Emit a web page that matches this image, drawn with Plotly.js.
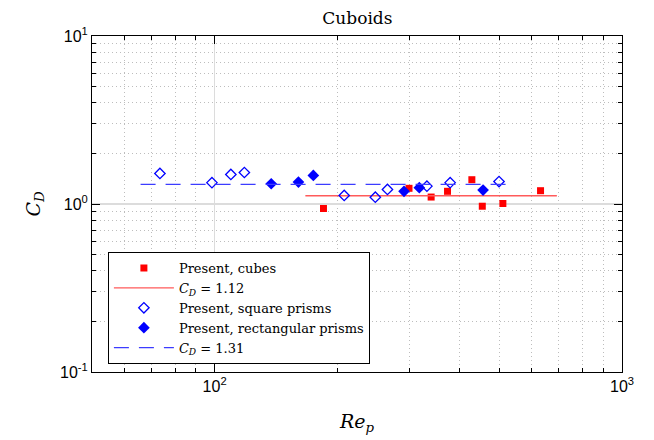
<!DOCTYPE html>
<html>
<head>
<meta charset="utf-8">
<script src="https://cdn.plot.ly/plotly-3.0.1.min.js"></script>
<style>html,body{margin:0;padding:0;background:#fff;}#chart{width:654px;height:440px;}</style>
</head>
<body>
<div id="chart"></div>
<script>
// Present, cubes
const cubesRe = [185, 300, 340, 373, 428, 454, 510, 631];
const cubesCd = [0.94, 1.24, 1.10, 1.19, 1.395, 0.97, 1.007, 1.20];
// Present, square prisms
const squareRe = [73.4, 98.5, 109.6, 118.3, 208, 248, 265.6, 332, 378.6, 499];
const squareCd = [1.52, 1.34, 1.50, 1.54, 1.124, 1.098, 1.22, 1.277, 1.34, 1.36];
// Present, rectangular prisms
const rectRe = [137.7, 160.6, 174.7, 291.7, 318, 456];
const rectCd = [1.32, 1.35, 1.48, 1.19, 1.25, 1.21];
// Fit lines
const fitCubesRe = [167, 692];
const fitCubesCd = [1.12, 1.12];
const fitPrismRe = [65.8, 548];
const fitPrismCd = [1.31, 1.31];

const serif = "'DejaVu Serif', serif";
const sans = "'Liberation Sans', Arial, sans-serif";

function minorVals(lo, hi) {
  const v = [];
  for (let e = lo; e < hi; e++) for (let k = 2; k <= 9; k++) v.push(k * Math.pow(10, e));
  return v;
}

const traces = [
  {x: cubesRe, y: cubesCd, mode: 'markers', name: 'Present, cubes',
   marker: {symbol: 'square', size: 7, color: '#ff0000'}},
  {x: fitCubesRe, y: fitCubesCd, mode: 'lines', name: '<i>C</i><sub><i>D</i></sub> = 1.12',
   line: {color: '#ff5a5a', width: 1.3}},
  {x: squareRe, y: squareCd, mode: 'markers', name: 'Present, square prisms',
   marker: {symbol: 'diamond-open', size: 8, color: '#0000ff', line: {width: 1.3, color: '#0000ff'}}},
  {x: rectRe, y: rectCd, mode: 'markers', name: 'Present, rectangular prisms',
   marker: {symbol: 'diamond', size: 9, color: '#0000ff'}},
  {x: fitPrismRe, y: fitPrismCd, mode: 'lines', name: '<i>C</i><sub><i>D</i></sub> = 1.31',
   line: {color: '#3c3cff', width: 1.3, dash: '15px,10px'}}
];

const gridMinor = {
  ticks: 'inside', ticklen: 4, tickcolor: '#000',
  showgrid: true, gridcolor: '#bdbdbd', griddash: '1px,3px', gridwidth: 1
};

const layout = {
  width: 654, height: 440,
  margin: {l: 92, r: 32, t: 36, b: 68},
  paper_bgcolor: '#fff', plot_bgcolor: '#fff',
  showlegend: true,
  font: {family: serif},
  title: {text: 'Cuboids', font: {family: serif, size: 17, color: '#000'},
          x: 0.5465, xanchor: 'center', y: 0.96, yanchor: 'middle', yref: 'container'},
  xaxis: {
    type: 'log', range: [Math.log10(50), 3],
    tickvals: [100, 1000], ticktext: ['10<sup>2</sup>', '10<sup>3</sup>'],
    ticks: 'inside', ticklen: 8, tickcolor: '#000', tickwidth: 1,
    showline: true, linecolor: '#000', linewidth: 1, mirror: 'allticks',
    showgrid: true, gridcolor: '#dcdcdc', gridwidth: 1.2, zeroline: false,
    tickfont: {family: sans, size: 16, color: '#000'},
    minor: Object.assign({}, gridMinor, {tickvals: minorVals(1, 3).filter(v => v >= 50)}),
    title: {text: '<i>Re</i><sub><i>p</i></sub>', font: {family: serif, size: 19, color: '#000'}, standoff: 20}
  },
  yaxis: {
    type: 'log', range: [-1, 1],
    tickvals: [0.1, 1, 10], ticktext: ['10<sup>-1</sup>', '10<sup>0</sup>', '10<sup>1</sup>'],
    ticks: 'inside', ticklen: 8, tickcolor: '#000', tickwidth: 1,
    showline: true, linecolor: '#000', linewidth: 1, mirror: 'allticks',
    showgrid: true, gridcolor: '#dcdcdc', gridwidth: 1.2, zeroline: false,
    tickfont: {family: sans, size: 16, color: '#000'},
    minor: Object.assign({}, gridMinor, {tickvals: minorVals(-1, 1)}),
    title: {text: '<i>C</i><sub><i>D</i></sub>', font: {family: serif, size: 19, color: '#000'}, standoff: 14}
  },
  legend: {
    x: 0.03, y: 0.357, xanchor: 'left', yanchor: 'top',
    bgcolor: '#fff', bordercolor: '#000', borderwidth: 1,
    font: {family: serif, size: 13, color: '#000'},
    itemwidth: 60, tracegroupgap: 0
  }
};

Plotly.newPlot('chart', traces, layout, {displayModeBar: false, staticPlot: true});
</script>
</body>
</html>
